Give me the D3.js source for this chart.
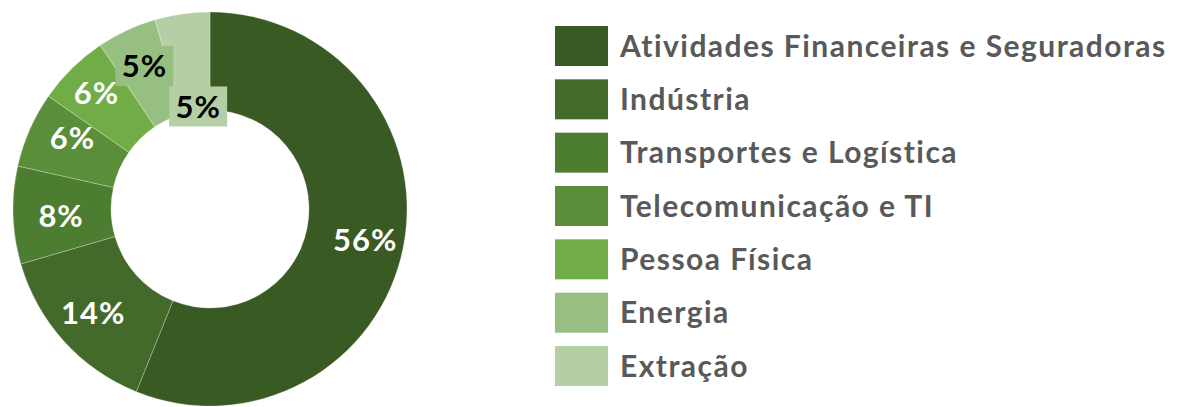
<!DOCTYPE html>
<html>
<head>
<meta charset="utf-8">
<script src="https://cdn.jsdelivr.net/npm/d3@7"></script>
<style>
  body { margin: 0; background: #fff; }
  text { font-family: Lato, "Open Sans", sans-serif; font-weight: bold; }
</style>
</head>
<body>
<div id="chart"></div>
<script>
var categories = ["Atividades Financeiras e Seguradoras", "Indústria", "Transportes e Logística",
    "Telecomunicação e TI", "Pessoa Física", "Energia", "Extração"];
var values = [56.1, 14.4, 8.0, 6.2, 5.9, 4.9, 4.5];
var valueLabels = ["56%", "14%", "8%", "6%", "6%", "5%", "5%"];
var colors = ["#3a5a24", "#436a2b", "#4d7d31", "#5b8e38", "#70ad47", "#97bf82", "#b4cfa6"];

var W = 1201, H = 407;
var cx = 210, cy = 209, R = 197, r = 99;

var svg = d3.select("#chart").append("svg")
    .attr("width", W)
    .attr("height", H);

//Donut
var pie = d3.pie().sort(null).value(function(d) { return d; });
var arcs = pie(values);
var arc = d3.arc().innerRadius(r).outerRadius(R);

var g = svg.append("g").attr("transform", "translate(" + cx + "," + cy + ")");

g.selectAll(".slice")
    .data(arcs)
    .enter().append("path")
    .attr("class", "slice")
    .attr("d", arc)
    .attr("fill", function(d, i) { return colors[i]; })
    .attr("stroke", "rgba(255,255,255,0.35)")
    .attr("stroke-width", 0.75);

// label offsets from the centroid (the two small top ones were dragged in excel and got a box)
var nudge = { 0: [10, 3], 1: [-7, 5], 2: [-1, 2], 3: [-2, -12], 4: [-10, -11], 5: [-3, -9], 6: [9, 44] };
var boxed = { 5: true, 6: true };

var lab = g.selectAll(".lbl")
    .data(arcs)
    .enter().append("g")
    .attr("class", "lbl")
    .attr("transform", function(d, i) {
        var c = arc.centroid(d), n = nudge[i] || [0, 0];
        return "translate(" + (c[0] + n[0]) + "," + (c[1] + n[1]) + ")";
    });

lab.filter(function(d, i) { return boxed[i]; })
    .append("rect")
    .attr("x", -29).attr("y", -20)
    .attr("width", 58).attr("height", 40)
    .attr("fill", function(d) { return colors[d.index]; });

lab.append("text")
    .attr("text-anchor", "middle")
    .attr("dy", "0.36em")
    .attr("font-size", 31)
    .attr("letter-spacing", 1)
    .attr("fill", function(d, i) { return boxed[i] ? "#000" : "#fff"; })
    .text(function(d, i) { return valueLabels[i]; });

//Legend
var legY = d3.scalePoint().domain(categories).range([46, 366]);

var leg = svg.selectAll(".leg")
    .data(categories)
    .enter().append("g")
    .attr("class", "leg")
    .attr("transform", function(d) { return "translate(555," + legY(d) + ")"; });

leg.append("rect")
    .attr("x", 0).attr("y", -20)
    .attr("width", 53).attr("height", 40)
    .attr("fill", function(d, i) { return colors[i]; });

leg.append("text")
    .attr("x", 65)
    .attr("dy", "0.36em")
    .attr("font-size", 30)
    .attr("letter-spacing", 1.45)
    .attr("fill", "#595959")
    .text(function(d) { return d; });
</script>
</body>
</html>
